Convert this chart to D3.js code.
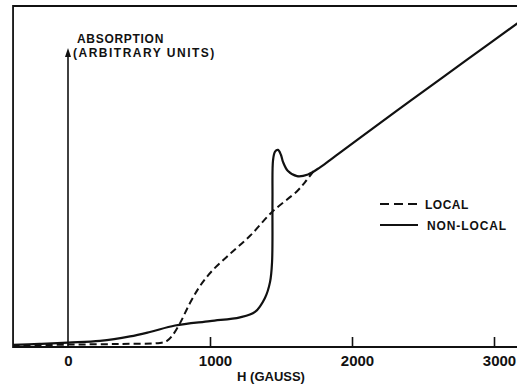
<!DOCTYPE html>
<html>
<head>
<meta charset="utf-8">
<script src="https://cdn.jsdelivr.net/npm/d3@7/dist/d3.min.js"></script>
<style>
  html, body { margin: 0; padding: 0; background: #fff; }
  svg { display: block; }
  text { font-family: "Liberation Sans", Arial, sans-serif; font-weight: bold; fill: #111; }
</style>
</head>
<body>
<svg id="chart" width="517" height="388"></svg>
<script>
// Field values H (gauss) and absorption (arbitrary units, 0-100)
const nonLocalH = [-390, -200, 0, 225, 437, 577, 754, 1000, 1211, 1317, 1387, 1423, 1437, 1440, 1444, 1458, 1479, 1500, 1514, 1549, 1613, 1690, 1775, 1880, 2056, 2408, 2808, 3200];
const nonLocalA = [0.6, 0.9, 1.3, 1.8, 3.1, 4.4, 6.3, 7.6, 8.7, 10.3, 14.4, 19.1, 24.9, 43.1, 54.8, 57.3, 57.8, 56.3, 54.3, 51.6, 50.1, 50.6, 52.7, 55.9, 61.3, 72.1, 84.2, 96.0];

const localH = [-390, 0, 366, 648, 697, 732, 789, 859, 930, 1014, 1141, 1282, 1437, 1613, 1680, 1730];
const localA = [0.4, 0.7, 0.9, 1.2, 1.8, 3.2, 7.0, 12.9, 17.9, 22.3, 27.3, 32.6, 39.6, 45.7, 48.9, 51.6];

const xTicks = [1000, 2000, 3000];
const xTickLabels = ["0", "1000", "2000", "3000"];
const legendLabels = ["LOCAL", "NON-LOCAL"];

const svg = d3.select("#chart");

const x = d3.scaleLinear().domain([0, 3000]).range([68, 494]);
const y = d3.scaleLinear().domain([0, 100]).range([347, 6]);

const frameL = x(-387), frameR = 520, frameT = y(100), frameB = y(0);

// Frame: left side, top and the field axis along the bottom
svg.append("path")
  .attr("d", `M${frameR},${frameT}H${frameL}V${frameB}H${frameR}`)
  .attr("fill", "none").attr("stroke", "#111").attr("stroke-width", 1.8);

// Tick marks rising from the field axis
const xAxis = d3.axisTop(x).tickValues(xTicks).tickSize(10).tickFormat("");
const gx = svg.append("g").attr("transform", `translate(0,${frameB})`).call(xAxis);
gx.select(".domain").remove();
gx.selectAll("line").attr("stroke", "#111").attr("stroke-width", 1.6);

// Tick labels
const labelVals = [0].concat(xTicks);
svg.append("g").selectAll("text").data(labelVals).join("text")
  .attr("x", (d) => x(d) + (d === 0 ? 0.5 : 5.5))
  .attr("y", 366)
  .attr("text-anchor", "middle")
  .style("font-size", "15px")
  .text((d, i) => xTickLabels[i]);

svg.append("text")
  .attr("x", 271).attr("y", 381)
  .attr("text-anchor", "middle")
  .style("font-size", "13px")
  .text("H (GAUSS)");

// Absorption axis at H = 0 with arrowhead
svg.append("line")
  .attr("x1", x(0)).attr("x2", x(0))
  .attr("y1", frameB).attr("y2", 52)
  .attr("stroke", "#111").attr("stroke-width", 1.6);
svg.append("path")
  .attr("d", `M${x(0) - 3},57L${x(0)},48L${x(0) + 3},57Z`)
  .attr("fill", "#111");

svg.append("text").attr("x", 77).attr("y", 43)
  .style("font-size", "12px").style("letter-spacing", "0.7px")
  .text("ABSORPTION");
svg.append("text").attr("x", 73).attr("y", 57)
  .style("font-size", "12px").style("letter-spacing", "1.5px")
  .text("(ARBITRARY UNITS)");

// Curves
const line = d3.line()
  .x((d) => x(d[0]))
  .y((d) => y(d[1]))
  .curve(d3.curveCatmullRom.alpha(0.5));

svg.append("clipPath").attr("id", "plot")
  .append("rect").attr("x", frameL).attr("y", frameT)
  .attr("width", frameR - frameL).attr("height", frameB - frameT);

svg.append("path")
  .datum(localH.map((h, i) => [h, localA[i]]))
  .attr("d", line)
  .attr("clip-path", "url(#plot)")
  .attr("fill", "none").attr("stroke", "#111").attr("stroke-width", 2)
  .attr("stroke-dasharray", "7,4");

svg.append("path")
  .datum(nonLocalH.map((h, i) => [h, nonLocalA[i]]))
  .attr("d", line)
  .attr("clip-path", "url(#plot)")
  .attr("fill", "none").attr("stroke", "#111").attr("stroke-width", 2.2);

// Legend
const legend = svg.append("g");
legend.append("line").attr("x1", 380).attr("x2", 418).attr("y1", 204).attr("y2", 204)
  .attr("stroke", "#111").attr("stroke-width", 2).attr("stroke-dasharray", "9,5");
legend.append("line").attr("x1", 380).attr("x2", 418).attr("y1", 225).attr("y2", 225)
  .attr("stroke", "#111").attr("stroke-width", 2);
legend.selectAll("text").data(legendLabels).join("text")
  .attr("x", (d, i) => i === 0 ? 425 : 427)
  .attr("y", (d, i) => i === 0 ? 208.5 : 229.5)
  .style("font-size", "12px")
  .style("letter-spacing", (d, i) => i === 0 ? "0.5px" : "0.9px")
  .text((d) => d);
</script>
</body>
</html>
